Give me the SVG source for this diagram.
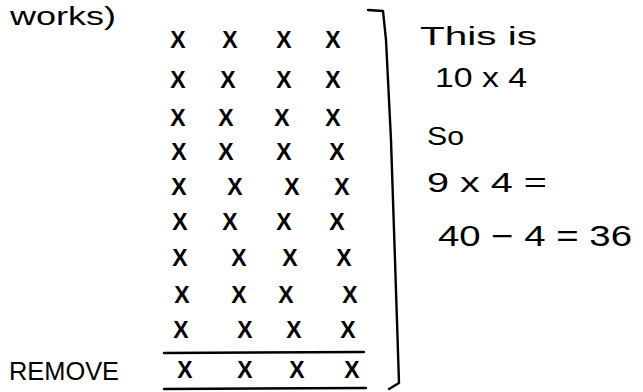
<svg xmlns="http://www.w3.org/2000/svg" width="643" height="392" viewBox="0 0 643 392">
<style>
.x{font-family:"Liberation Sans",Arial,sans-serif;font-size:23px;font-weight:bold;fill:#000;text-anchor:middle}
.t{font-family:"Liberation Sans",Arial,sans-serif;fill:#000}
.ln{stroke:#000;stroke-width:2.4;fill:none;stroke-linecap:round;stroke-linejoin:round}
</style>
<rect width="643" height="392" fill="#fff"/>
<g id="header"><text class="t" x="10" y="25" style="font-size:26px" textLength="106" lengthAdjust="spacingAndGlyphs">works)</text></g>
<g id="grid">
<text class="x" x="178" y="48">X</text><text class="x" x="230" y="48">X</text><text class="x" x="284" y="48">X</text><text class="x" x="333" y="48">X</text>
<text class="x" x="178" y="88">X</text><text class="x" x="228" y="88">X</text><text class="x" x="284" y="88">X</text><text class="x" x="333" y="88">X</text>
<text class="x" x="178" y="126">X</text><text class="x" x="226" y="126">X</text><text class="x" x="282" y="126">X</text><text class="x" x="333" y="126">X</text>
<text class="x" x="179" y="160">X</text><text class="x" x="226" y="160">X</text><text class="x" x="284" y="160">X</text><text class="x" x="337" y="160">X</text>
<text class="x" x="179" y="195">X</text><text class="x" x="235" y="195">X</text><text class="x" x="292" y="195">X</text><text class="x" x="342" y="195">X</text>
<text class="x" x="180" y="230">X</text><text class="x" x="230" y="230">X</text><text class="x" x="284" y="230">X</text><text class="x" x="337" y="230">X</text>
<text class="x" x="180" y="266">X</text><text class="x" x="239" y="266">X</text><text class="x" x="290" y="266">X</text><text class="x" x="344" y="266">X</text>
<text class="x" x="182" y="303">X</text><text class="x" x="239" y="303">X</text><text class="x" x="286" y="303">X</text><text class="x" x="350" y="303">X</text>
<text class="x" x="181" y="338">X</text><text class="x" x="245" y="338">X</text><text class="x" x="294" y="338">X</text><text class="x" x="348" y="338">X</text>
</g>
<g id="remove-row">
<text class="t" x="9" y="380" style="font-size:26px" textLength="110" lengthAdjust="spacingAndGlyphs">REMOVE</text>
<line class="ln" x1="164" y1="353" x2="364" y2="352"/>
<text class="x" x="185" y="378">X</text><text class="x" x="245" y="378">X</text><text class="x" x="297" y="378">X</text><text class="x" x="352" y="378">X</text>
<line class="ln" x1="164" y1="389" x2="366" y2="388"/>
</g>
<g id="bracket"><path class="ln" d="M368 10 L383 11 L386 40 L391 140 L395 260 L399 383 L389 389"/></g>
<g id="notes">
<text class="t" x="420" y="45" style="font-size:25px" textLength="117" lengthAdjust="spacingAndGlyphs">This is</text>
<text class="t" x="435" y="87" style="font-size:28px" textLength="92" lengthAdjust="spacingAndGlyphs">10 x 4</text>
<text class="t" x="427" y="145" style="font-size:26px" textLength="37" lengthAdjust="spacingAndGlyphs">So</text>
<text class="t" x="427" y="192" style="font-size:27px" textLength="120" lengthAdjust="spacingAndGlyphs">9 x 4 =</text>
<text class="t" x="438" y="246" style="font-size:29px" textLength="194" lengthAdjust="spacingAndGlyphs">40 − 4 = 36</text>
</g>
</svg>
